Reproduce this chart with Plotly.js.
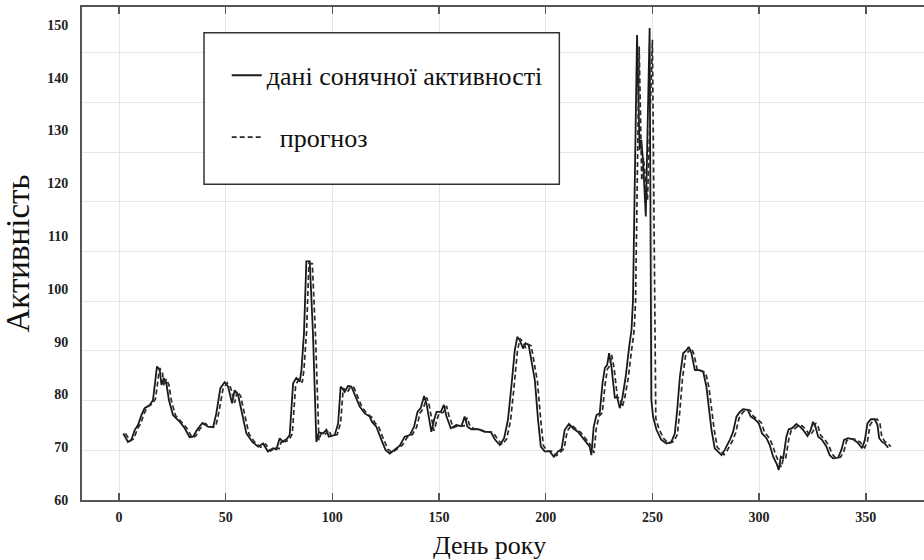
<!DOCTYPE html>
<html>
<head>
<meta charset="utf-8">
<script src="https://cdn.plot.ly/plotly-3.0.1.min.js"></script>
<style>html,body{margin:0;padding:0;background:#fff;}#chart{width:924px;height:560px;}</style>
</head>
<body>
<div id="chart"></div>
<script>
// Actual solar activity (day of year, value)
const actualDays = [2,3,4.2,5.8,7.4,8.9,10.5,12,14.4,15.9,17.1,17.8,19.1,19.9,21,22.2,23.4,25.3,28.5,30.8,33.1,34.7,36.6,39.1,41.7,44.1,45.6,47.5,49.5,51.1,53,54.2,55.8,57.8,59.7,62.5,65.2,67.5,69.8,72.2,73.8,75.3,76.9,78.5,80,81.6,83.1,84.7,85.5,86.7,87.8,89.4,90.9,92.5,93.6,95.6,97.2,98.3,101.1,102.7,103.9,105.8,107.3,108.9,110.5,112.8,115.2,117.5,118.6,120.6,123,124.9,126.9,129.2,131.6,133.9,136.3,138.3,139.9,141.4,143,144.1,145.3,146.4,147.7,148.8,150.8,152.3,153.5,155.5,158.1,160.5,162,163.3,165.2,168.3,171.4,174.2,176.1,178.5,180.5,182.3,183.9,185.5,186.7,187.8,189.4,190.5,192,193.3,194.9,196.4,197.7,199.5,201.9,203.8,205.8,207.4,208.9,210.9,212.8,215.2,216.8,218.8,220.6,221.4,222.5,223.8,225.3,226.6,227.7,228.8,229.7,230.8,231.6,232.4,233.4,234.7,235.9,237.5,239.1,240.2,240.9,242.8,244,244.8,245.6,246.9,248.7,249.5,250.3,251.9,254.2,256.6,258.9,260.5,261.6,262.9,264.4,266,267,268.3,269.9,272.2,273.8,275.3,276.4,277.7,279.2,280.8,282.4,283.9,286.3,287.8,289.4,291,292.5,294.6,296.1,298,299.9,301.4,303.5,305,306.6,308.2,309.2,310.2,311.3,312.8,313.9,315.5,317.5,319.1,320.6,322.7,324.2,325.3,326.4,327.7,329.5,331.6,333.1,334.7,337,338.6,339.8,341.7,344.1,346.1,348.3,349.6,350.8,352.4,354.2,355.5,356.3,357.7,358.9,360.5];
const actualValues = [72.6,71.8,71.0,71.4,73.3,74.2,76.1,77.4,78.0,78.9,83.4,85.3,84.6,81.8,83.1,82.1,78.9,76.1,74.8,73.6,71.9,72.0,73.3,74.6,73.9,73.8,76.4,81.2,82.3,81.5,78.3,80.8,79.9,76.4,72.6,71.0,70.1,70.7,69.2,69.8,69.6,71.7,71.0,71.5,72.3,82.1,83.1,82.4,84.6,91.6,105.2,105.2,91.6,71.0,72.8,72.6,73.3,72.0,72.3,74.5,81.5,80.5,81.6,81.5,79.9,77.7,76.4,75.8,74.8,73.9,71.4,69.5,68.8,69.6,70.3,72.0,72.3,73.9,76.7,77.4,79.7,78.3,75.2,72.9,75.2,76.7,76.7,78.0,75.8,73.6,74.2,74.0,75.8,73.9,73.4,73.4,72.9,72.9,71.5,70.4,71.7,75.2,81.5,88.4,90.9,90.3,88.7,89.7,89.4,86.5,82.7,75.2,70.1,69.2,69.2,68.2,69.2,69.6,73.3,74.4,73.6,72.9,72.0,71.0,70.1,68.5,73.9,76.1,76.4,82.1,85.0,85.6,87.8,85.3,82.1,79.3,79.6,77.4,79.3,83.4,89.0,92.2,97.9,148.1,126.3,128.2,124.4,113.7,149.4,79.0,75.8,73.3,71.4,70.7,71.0,72.6,77.0,83.4,87.8,88.4,89.0,87.8,84.6,84.6,84.3,81.5,77.7,73.3,69.8,69.2,68.5,69.5,71.4,72.9,75.8,76.7,77.2,77.1,75.8,75.3,74.5,72.6,71.7,70.4,68.2,66.9,65.7,68.2,67.9,72.0,73.4,73.6,74.4,73.9,73.3,72.1,73.3,74.8,73.9,72.0,71.4,70.1,68.5,67.9,68.0,69.5,71.4,71.7,71.5,70.9,69.8,71.4,74.5,75.3,75.3,74.2,71.7,71.0,70.7,69.9];

// Forecast (day of year, value)
const forecastDays = [3.0,4.0,5.3,7.0,8.6,10.1,11.7,13.2,15.6,17.1,18.3,19.0,20.3,21.1,22.2,23.4,24.6,26.5,29.7,32.0,34.3,35.9,37.8,40.3,42.9,45.3,46.8,48.7,50.7,52.3,54.2,55.4,57.0,59.0,60.9,63.7,66.4,68.7,71.0,73.4,75.0,76.5,78.1,79.7,81.2,82.8,84.3,85.9,86.7,87.9,89.0,90.6,92.1,93.7,94.8,96.8,98.4,99.5,102.3,103.9,105.1,107.0,108.5,110.1,111.7,114.0,116.4,118.7,119.8,121.8,124.2,126.1,128.1,130.4,132.8,135.1,137.5,139.5,141.1,142.6,144.2,145.3,146.5,147.6,148.9,150.0,152.0,153.5,154.7,156.7,159.3,161.7,163.2,164.5,166.4,169.5,172.6,175.4,177.3,179.7,181.7,183.5,185.1,186.7,187.9,189.0,190.6,191.7,193.2,194.5,196.1,197.6,198.9,200.7,203.1,205.0,207.0,208.6,210.1,212.1,214.0,216.4,218.0,220.0,221.8,222.6,223.7,225.0,226.5,227.8,228.9,230.0,230.9,232.0,232.8,233.6,234.6,235.9,237.1,238.7,240.3,241.4,242.1,243.8,245.0,245.8,246.6,247.7,250.0,251.2,251.6,253.1,255.4,257.6,260.1,261.7,262.8,264.1,265.6,267.2,268.2,269.5,271.1,273.4,275.0,276.5,277.6,278.9,280.4,282.0,283.6,285.1,287.5,289.0,290.6,292.2,293.7,295.8,297.3,299.2,301.1,302.6,304.7,306.2,307.8,309.4,310.4,311.4,312.5,314.0,315.1,316.7,318.7,320.3,321.8,323.9,325.4,326.5,327.6,328.9,330.7,332.8,334.3,335.9,338.2,339.8,341.0,342.9,345.3,347.3,349.5,350.8,352.0,353.6,355.4,356.7,357.5,358.9,360.1,361.7];
const forecastValues = [72.6,72.0,71.2,71.6,73.5,74.4,76.3,77.6,78.2,79.2,83.2,85.0,84.3,81.6,82.9,81.8,78.7,76.0,74.6,73.5,71.8,72.1,73.4,74.5,73.8,73.9,76.6,81.0,82.2,81.3,78.4,80.6,79.7,76.2,72.5,70.9,70.0,70.6,69.3,69.9,69.7,71.6,71.1,71.4,72.5,81.8,82.9,82.3,84.8,91.9,104.8,104.8,91.0,71.3,72.7,72.5,73.2,72.1,72.4,74.7,81.2,80.4,81.4,81.3,79.8,77.5,76.3,75.6,74.7,73.8,71.3,69.6,69.0,69.7,70.4,71.9,72.4,73.8,76.5,77.3,79.4,78.1,75.3,73.1,75.0,76.5,76.6,77.8,75.9,73.7,74.1,74.0,75.6,74.0,73.5,73.3,72.9,72.8,71.6,70.5,71.6,75.0,81.2,88.1,90.6,90.1,88.8,89.5,89.2,86.4,82.5,75.4,70.3,69.3,69.2,68.4,69.2,69.7,73.1,74.2,73.5,72.8,72.0,71.0,70.0,68.9,73.6,75.9,76.5,81.8,84.8,85.4,87.5,85.1,82.0,79.5,79.3,77.6,79.5,83.2,88.6,92.0,97.5,145.9,120.5,124.8,121.5,116.8,147.2,100.0,75.5,73.4,71.6,70.7,71.1,72.4,76.6,83.0,87.5,88.3,88.8,87.6,84.5,84.4,84.1,81.3,77.6,73.5,70.0,69.3,68.6,69.4,71.2,72.7,75.5,76.5,77.1,77.0,75.9,75.3,74.6,72.8,71.8,70.5,68.5,67.1,66.2,67.9,68.0,71.7,73.2,73.5,74.2,74.0,73.4,72.2,73.1,74.6,74.0,72.2,71.5,70.2,68.7,68.0,68.1,69.3,71.2,71.6,71.5,71.0,69.9,71.1,74.2,75.2,75.3,74.4,72.0,71.1,70.8,70.1];

const xTicks = [0,50,100,150,200,250,300,350];
const yTicks = [60,70,80,90,100,110,120,130,140,150];
const seriesNames = ['дані сонячної активності', '\u00a0\u00a0прогноз'];
const xTitle = 'День року';
const yTitle = 'Активність';

const serif = '"Liberation Serif", "Times New Roman", Times, serif';

const traces = [
  {x: actualDays, y: actualValues, type: 'scatter', mode: 'lines', name: seriesNames[0],
   legendgroup: 'a', line: {color: '#1a1a1a', width: 1.8}},
  {x: forecastDays, y: forecastValues, type: 'scatter', mode: 'lines', name: seriesNames[1],
   legendgroup: 'b', line: {color: '#2a2a2a', width: 1.7, dash: '5px,3px'}},
  // empty trace so the overlaid grid axis is drawn
  {x: [null], y: [null], yaxis: 'y2', type: 'scatter', mode: 'lines', showlegend: false, hoverinfo: 'skip'}
];

const layout = {
  width: 924, height: 560,
  margin: {l: 82, r: 0, t: 7, b: 60},
  paper_bgcolor: '#fff', plot_bgcolor: '#fff',
  font: {family: serif, color: '#111'},
  showlegend: true,
  legend: {x: 0.1719, xanchor: 'left', y: 0.909, yanchor: 'top',
           bgcolor: 'rgba(0,0,0,0)', borderwidth: 0, tracegroupgap: 25,
           font: {family: serif, size: 26, color: '#111'}},
  xaxis: {range: [-17.35, 377.3], tickvals: xTicks, ticktext: xTicks.map(String),
          showgrid: true, gridcolor: '#e6e6e6', gridwidth: 1, zeroline: false,
          showline: true, linecolor: '#555', linewidth: 2, mirror: 'ticks',
          ticks: 'inside', ticklen: 7, tickwidth: 1.5, tickcolor: '#555',
          ticklabelstandoff: 3,
          tickfont: {family: serif, size: 14, color: '#222', weight: 'bold'}},
  yaxis: {range: [60, 153.4], tickvals: yTicks, ticktext: yTicks.map(String),
          showgrid: false, zeroline: false,
          showline: true, linecolor: '#555', linewidth: 2, mirror: false,
          ticks: '', ticklabelstandoff: 9,
          tickfont: {family: serif, size: 14, color: '#222', weight: 'bold'},
          title: {text: yTitle, font: {family: serif, size: 33, color: '#111'}, standoff: 10}},
  yaxis2: {overlaying: 'y', range: [60, 159.2], tickvals: yTicks, showticklabels: false,
           showgrid: true, gridcolor: '#e6e6e6', gridwidth: 1, zeroline: false,
           showline: false, ticks: ''},
  annotations: [
    {text: xTitle, xref: 'paper', yref: 'paper', x: 0.4834, y: -0.0913,
     xanchor: 'center', yanchor: 'middle', showarrow: false,
     font: {family: serif, size: 26, color: '#111'}}
  ],
  shapes: [
    {type: 'rect', xref: 'paper', yref: 'paper', x0: 0.1449, x1: 0.5669, y0: 0.6404, y1: 0.9479,
     fillcolor: '#fff', line: {color: '#333', width: 1.5}, layer: 'above'}
  ]
};

Plotly.newPlot('chart', traces, layout, {displayModeBar: false, staticPlot: true});
</script>
</body>
</html>
